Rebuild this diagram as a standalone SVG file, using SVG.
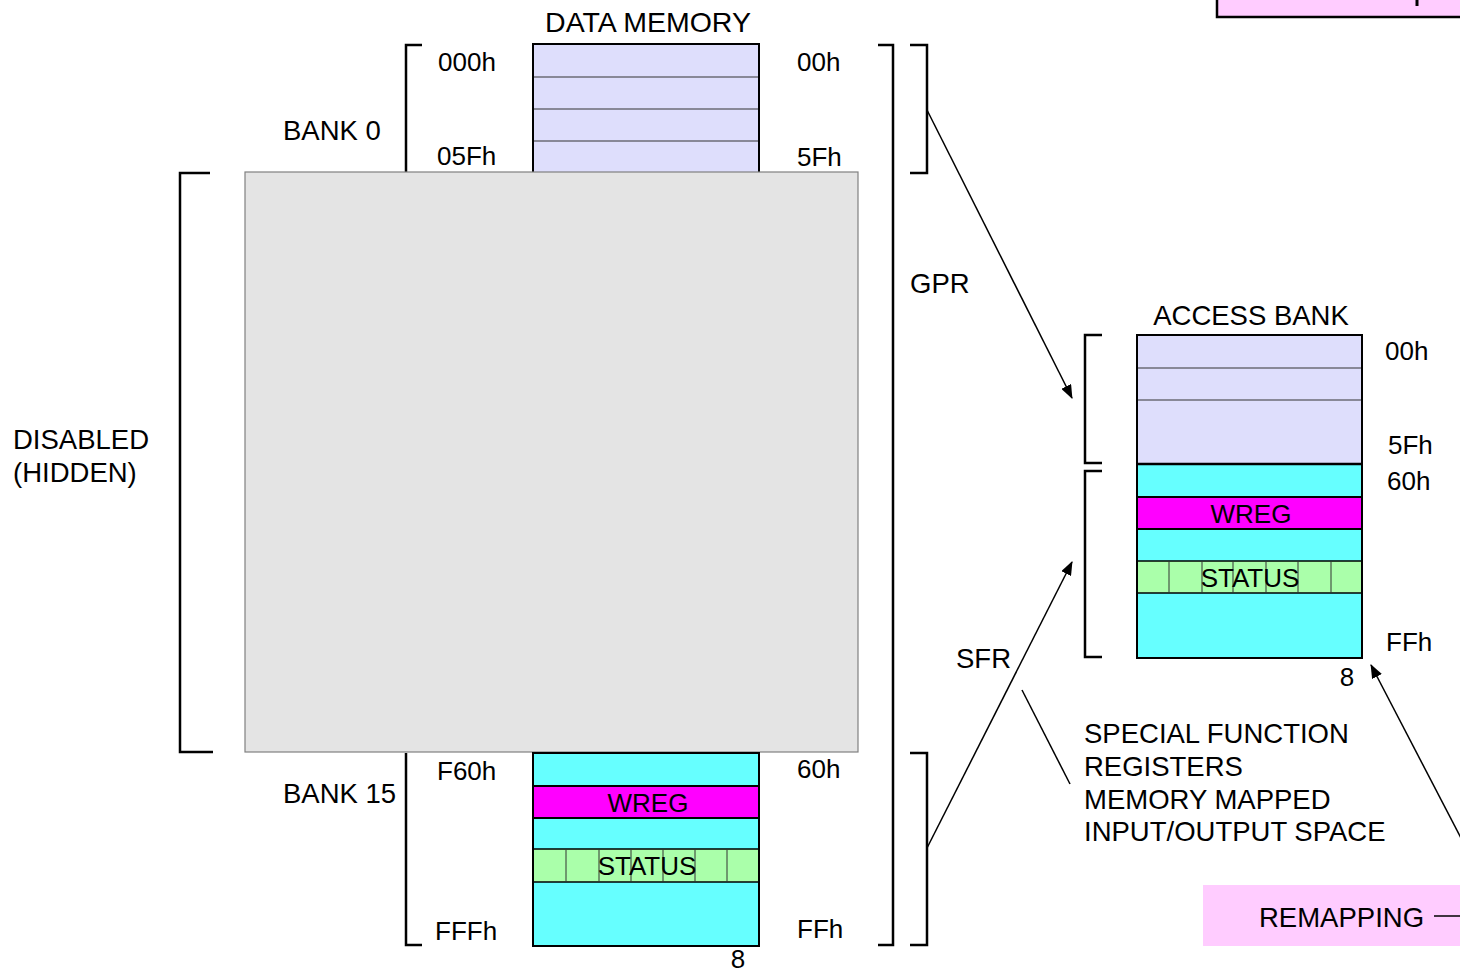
<svg xmlns="http://www.w3.org/2000/svg" width="1460" height="972" viewBox="0 0 1460 972">
<style>
text{font-family:"Liberation Sans",Arial,sans-serif;font-size:27.5px;fill:#000}
.h{font-size:26px}
.c{text-anchor:middle}
.br{fill:none;stroke:#000;stroke-width:2.5}
.lav{fill:#dedefc}
.cy{fill:#66ffff}
.mg{fill:#ff00ff}
.gr{fill:#aaffaa}
.thin{stroke:#333;stroke-width:1;fill:none}
.box{fill:none;stroke:#000;stroke-width:2}
.ln{stroke:#000;stroke-width:1.5;fill:none}
</style>
<defs>
<marker id="ah" markerWidth="14" markerHeight="11" refX="13" refY="5.5" orient="auto" markerUnits="userSpaceOnUse">
<path d="M0,0 L14,5.5 L0,11 Z" fill="#000"/>
</marker>
</defs>

<g id="top-right-box">
<rect x="1217" y="-10" width="260" height="27" fill="#ffccff" stroke="#000" stroke-width="2.5"/>
<line x1="1417" y1="0" x2="1417" y2="6" stroke="#000" stroke-width="3"/>
</g>

<g id="title"><text x="648" y="32" class="c" style="font-size:28.5px">DATA MEMORY</text></g>

<g id="bank0">
<rect x="533" y="44" width="226" height="140" class="lav"/>
<line x1="533" y1="77" x2="759" y2="77" class="thin"/>
<line x1="533" y1="109" x2="759" y2="109" class="thin"/>
<line x1="533" y1="141" x2="759" y2="141" class="thin"/>
<rect x="533" y="44" width="226" height="140" class="box"/>
<polyline points="422,45 406,45 406,172" class="br"/>
<text x="283" y="140">BANK 0</text>
<text x="438" y="71" class="h">000h</text>
<text x="437" y="165" class="h">05Fh</text>
<text x="797" y="71" class="h">00h</text>
<text x="797" y="166" class="h">5Fh</text>
</g>

<g id="hidden">
<rect x="245" y="172" width="613" height="580" fill="#e4e4e4" stroke="#808080" stroke-width="1.2"/>
<polyline points="210,173 180,173 180,752 213,752" class="br"/>
<text x="13" y="449">DISABLED</text>
<text x="13" y="482">(HIDDEN)</text>
</g>

<g id="bank15">
<rect x="533" y="753" width="226" height="193" class="cy"/>
<rect x="533" y="786" width="226" height="32" class="mg" stroke="#000" stroke-width="2"/>
<rect x="533" y="849" width="226" height="33" class="gr" stroke="#000" stroke-width="1.5"/>
<line x1="566" y1="849" x2="566" y2="882" class="thin"/>
<line x1="599" y1="849" x2="599" y2="882" class="thin"/>
<line x1="631" y1="849" x2="631" y2="882" class="thin"/>
<line x1="663" y1="849" x2="663" y2="882" class="thin"/>
<line x1="695" y1="849" x2="695" y2="882" class="thin"/>
<line x1="727" y1="849" x2="727" y2="882" class="thin"/>
<rect x="533" y="753" width="226" height="193" class="box"/>
<text x="648" y="812" class="c h">WREG</text>
<text x="647" y="875" class="c h">STATUS</text>
<polyline points="406,753 406,945 422,945" class="br"/>
<text x="283" y="803">BANK 15</text>
<text x="437" y="780" class="h">F60h</text>
<text x="797" y="778" class="h">60h</text>
<text x="435" y="940" class="h">FFFh</text>
<text x="797" y="938" class="h">FFh</text>
<text x="738" y="968" class="c h">8</text>
</g>

<g id="gpr-bracket">
<polyline points="878,45 893,45 893,945 878,945" class="br"/>
<polyline points="910,45 927,45 927,173 910,173" class="br"/>
<text x="910" y="293">GPR</text>
</g>

<g id="sfr-bracket">
<polyline points="910,753 927,753 927,945 910,945" class="br"/>
<text x="956" y="668">SFR</text>
</g>

<g id="access-bank">
<text x="1251" y="325" class="c">ACCESS BANK</text>
<rect x="1137" y="335" width="225" height="129" class="lav"/>
<line x1="1137" y1="368" x2="1362" y2="368" class="thin"/>
<line x1="1137" y1="400" x2="1362" y2="400" class="thin"/>
<rect x="1137" y="464" width="225" height="194" class="cy"/>
<rect x="1137" y="497" width="225" height="32" class="mg" stroke="#000" stroke-width="2"/>
<rect x="1137" y="561" width="225" height="32" class="gr" stroke="#000" stroke-width="1.5"/>
<line x1="1169" y1="561" x2="1169" y2="593" class="thin"/>
<line x1="1202" y1="561" x2="1202" y2="593" class="thin"/>
<line x1="1233" y1="561" x2="1233" y2="593" class="thin"/>
<line x1="1266" y1="561" x2="1266" y2="593" class="thin"/>
<line x1="1298" y1="561" x2="1298" y2="593" class="thin"/>
<line x1="1331" y1="561" x2="1331" y2="593" class="thin"/>
<line x1="1137" y1="464" x2="1362" y2="464" stroke="#000" stroke-width="2.5"/>
<rect x="1137" y="335" width="225" height="323" class="box"/>
<text x="1251" y="523" class="c h">WREG</text>
<text x="1250" y="587" class="c h">STATUS</text>
<polyline points="1102,335 1085,335 1085,463 1102,463" class="br"/>
<polyline points="1102,471 1085,471 1085,657 1102,657" class="br"/>
<text x="1385" y="360" class="h">00h</text>
<text x="1388" y="454" class="h">5Fh</text>
<text x="1387" y="490" class="h">60h</text>
<text x="1386" y="651" class="h">FFh</text>
<text x="1347" y="686" class="c h">8</text>
</g>

<g id="sfr-note">
<text x="1084" y="743">SPECIAL FUNCTION</text>
<text x="1084" y="776">REGISTERS</text>
<text x="1084" y="809">MEMORY MAPPED</text>
<text x="1084" y="841">INPUT/OUTPUT SPACE</text>
</g>

<g id="remapping">
<rect x="1203" y="885" width="270" height="61" fill="#ffccff"/>
<text x="1259" y="927">REMAPPING</text>
</g>

<g id="connectors">
<line x1="927" y1="110" x2="1072" y2="398" class="ln" marker-end="url(#ah)"/>
<line x1="927" y1="848" x2="1072" y2="562" class="ln" marker-end="url(#ah)"/>
<line x1="1022" y1="690" x2="1070" y2="784" class="ln"/>
<line x1="1462" y1="840" x2="1371" y2="665" class="ln" marker-end="url(#ah)"/>
<line x1="1434" y1="916" x2="1462" y2="916" class="ln"/>
</g>
</svg>
